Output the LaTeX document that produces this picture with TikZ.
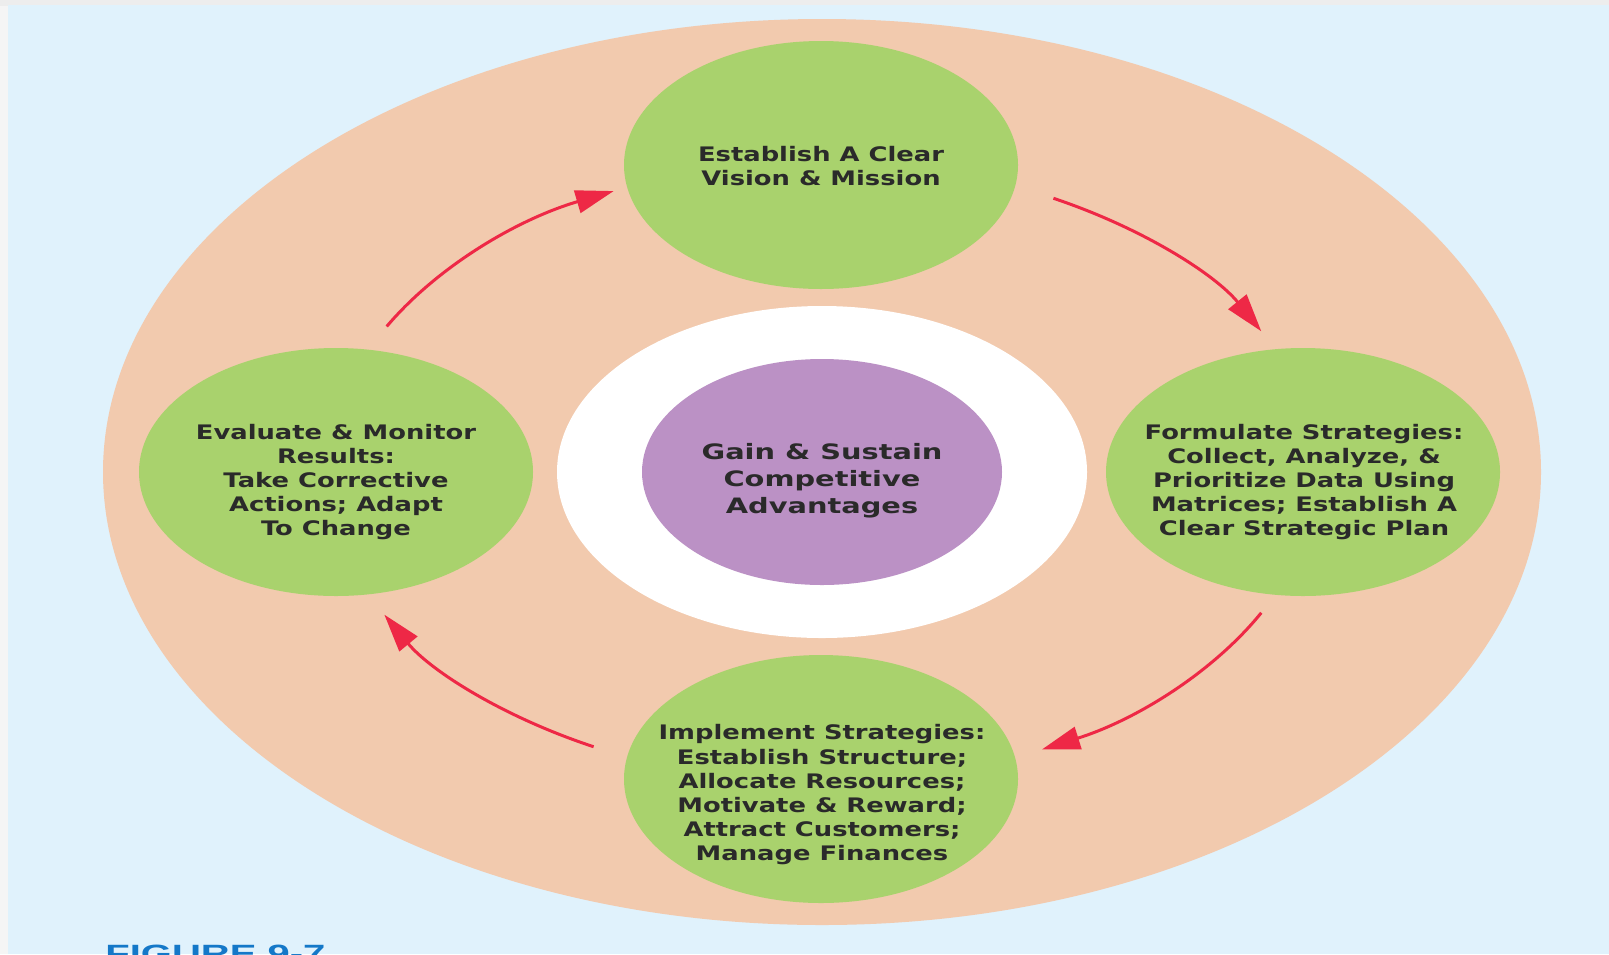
\documentclass[tikz,border=0pt]{standalone}
\usepackage{fontspec}
\usetikzlibrary{shapes.geometric,arrows.meta,calc}
% wide, heavy lettering for the stage labels
\newfontfamily\lblfont[FakeStretch=1.29]{DejaVu Sans Bold}
\newfontfamily\hubfont[FakeStretch=1.36]{DejaVu Sans Bold}
\newfontfamily\capfont[FakeStretch=1.6]{Liberation Sans Bold}
\definecolor{bgblue}{HTML}{E0F2FC}
\definecolor{peach}{HTML}{F2CAAE}
\definecolor{leaf}{HTML}{A9D26D}
\definecolor{plum}{HTML}{BB91C5}
\definecolor{flow}{HTML}{EE2846}
\definecolor{ink}{HTML}{2A2A2A}
\definecolor{figblue}{HTML}{1478C8}
\begin{document}
\begin{tikzpicture}[x=0.5pt,y=-0.5pt,
  blob/.style={ellipse, inner sep=0pt, outer sep=0pt},
  stage/.style={blob, fill=leaf, minimum width=197pt, minimum height=124pt},
  lbl/.style={align=center, text=ink, inner sep=0pt,
    font=\lblfont\fontsize{10}{12.1}\selectfont},
  hublbl/.style={align=center, text=ink, inner sep=0pt,
    font=\hubfont\fontsize{10.6}{13.5}\selectfont},
  flowarrow/.style={draw=flow, line width=1.5pt,
    -{Triangle[length=19pt,width=11.5pt]}},
]
\useasboundingbox (0,0) rectangle (1609,954);
\clip (0,0) rectangle (1609,954);
% page frame and backdrop
\fill[gray!8] (0,0) rectangle (1609,954);
\shade[left color=gray!14, middle color=white, right color=gray!14] (0,0) rectangle (1609,5);
\fill[bgblue] (8,5) rectangle (1609,954);

% rings
\node[blob, fill=peach, minimum width=719pt, minimum height=453pt] (outer) at (822,472) {};
\node[blob, fill=white, minimum width=265pt, minimum height=166pt] (hub) at (822,472) {};
\node[blob, fill=plum, minimum width=180pt, minimum height=113pt] (core) at (822,472) {};

% the four stages
\node[stage] (vision) at (821,165) {};
\node[stage] (formulate) at (1303,472) {};
\node[stage] (implement) at (821,779) {};
\node[stage] (evaluate) at (336,472) {};

% cycle arrows, running clockwise on an ellipse round the hub
\coordinate (tl) at ($(outer.center)+(-152:493 and 310)$);
\coordinate (tr) at ($(outer.center)+(-62:493 and 310)$);
\coordinate (br) at ($(outer.center)+(27:493 and 310)$);
\coordinate (bl) at ($(outer.center)+(117.6:493 and 310)$);
\draw[flowarrow] (tl) arc[start angle=-152, end angle=-115, x radius=493, y radius=310];
\draw[flowarrow] (tr) arc[start angle=-62, end angle=-27, x radius=493, y radius=310];
\draw[flowarrow] (br) arc[start angle=27, end angle=63.5, x radius=493, y radius=310];
\draw[flowarrow] (bl) arc[start angle=117.6, end angle=152.6, x radius=493, y radius=310];

% labels
\node[hublbl] (core-t) at (822,481) {Gain \& Sustain\\Competitive\\Advantages};
\node[lbl] (vision-t) at (821,166) {Establish A Clear\\Vision \& Mission};
\node[lbl] (formulate-t) at (1304,482) {Formulate Strategies:\\Collect, Analyze, \&\\Prioritize Data Using\\Matrices; Establish A\\Clear Strategic Plan};
\node[lbl] (implement-t) at (822,795) {Implement Strategies:\\Establish Structure;\\Allocate Resources;\\Motivate \& Reward;\\Attract Customers;\\Manage Finances};
\node[lbl] (evaluate-t) at (336,482) {Evaluate \& Monitor\\Results:\\Take Corrective\\Actions; Adapt\\To Change};

\node[anchor=north west, inner sep=0pt, text=figblue,
  font=\capfont\fontsize{12.5}{14}\selectfont] (caption) at (105,945) {FIGURE 9-7};
\end{tikzpicture}
\end{document}
